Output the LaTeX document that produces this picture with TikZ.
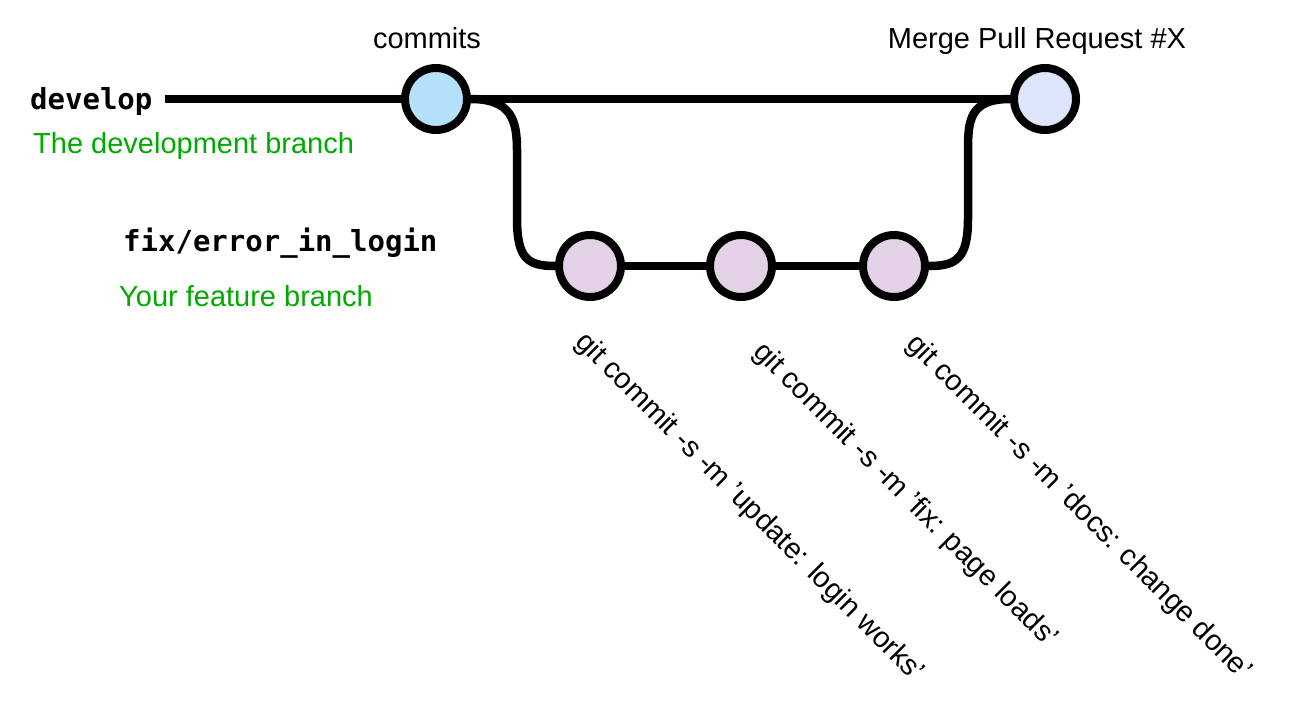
\documentclass[tikz,border=0pt]{standalone}
\usepackage{fontspec}
\setmainfont{Liberation Sans}
\setmonofont{DejaVu Sans Mono}
\usetikzlibrary{backgrounds}
\definecolor{devblue}{RGB}{181,224,252}
\definecolor{mergeblue}{RGB}{221,229,250}
\definecolor{fixpurple}{RGB}{227,209,230}
\definecolor{labelgreen}{RGB}{0,170,0}
\begin{document}
\begin{tikzpicture}[x=1pt,y=-1pt,
  commit/.style={circle,draw=black,line width=8pt,minimum size=62pt,inner sep=0pt},
  branchline/.style={line width=8.5pt,line cap=butt},
  txt/.style={inner sep=0pt,font=\fontsize{29}{34}\selectfont},
  mono/.style={inner sep=0pt,font=\fontsize{29}{34}\selectfont\ttfamily\bfseries},
  green/.style={txt,text=labelgreen},
  msg/.style={txt,anchor=base west,rotate=-45}]
\useasboundingbox (0,0) rectangle (1295,721);
% commits
\node[commit,fill=devblue] (c1) at (436,99) {};
\node[commit,fill=mergeblue] (m) at (1045,99) {};
\node[commit,fill=fixpurple] (b1) at (590,266) {};
\node[commit,fill=fixpurple] (b2) at (741,266) {};
\node[commit,fill=fixpurple] (b3) at (894,266) {};
\coordinate (start) at (165,99);
\coordinate (k1) at (517,150);
\coordinate (k2) at (517,218);
\coordinate (k3) at (968,218);
\coordinate (k4) at (968,150);
\begin{pgfonlayer}{background}
\draw[branchline] (start) -- (m.west);
\draw[branchline] (c1.east) .. controls +(40,0) and +(0,-30) .. (k1) -- (k2) .. controls +(0,40) and +(-28,0) .. (b1.west);
\draw[branchline] (b1) -- (b2) -- (b3);
\draw[branchline] (b3.east) .. controls +(28,0) and +(0,40) .. (k3) -- (k4) .. controls +(0,-30) and +(-40,0) .. (m.west);
\end{pgfonlayer}
% labels
\node[txt,anchor=base] (lc) at (427,48) {commits};
\node[txt,anchor=base] (lm) at (1037,48) {Merge Pull Request \#X};
\node[mono,anchor=base west] (ld) at (30,109) {develop};
\node[green,anchor=base west] (ldd) at (33,153) {The development branch};
\node[mono,anchor=base west] (lf) at (123,251) {fix/error\_in\_login};
\node[green,anchor=base west] (lfd) at (119,306) {Your feature branch};
\node[msg] (t1) at (574,343) {git commit -s -m 'update: login works'};
\node[msg] (t2) at (752,353) {git commit -s -m 'fix: page loads'};
\node[msg] (t3) at (905,345) {git commit -s -m 'docs: change done'};
\end{tikzpicture}
\end{document}
